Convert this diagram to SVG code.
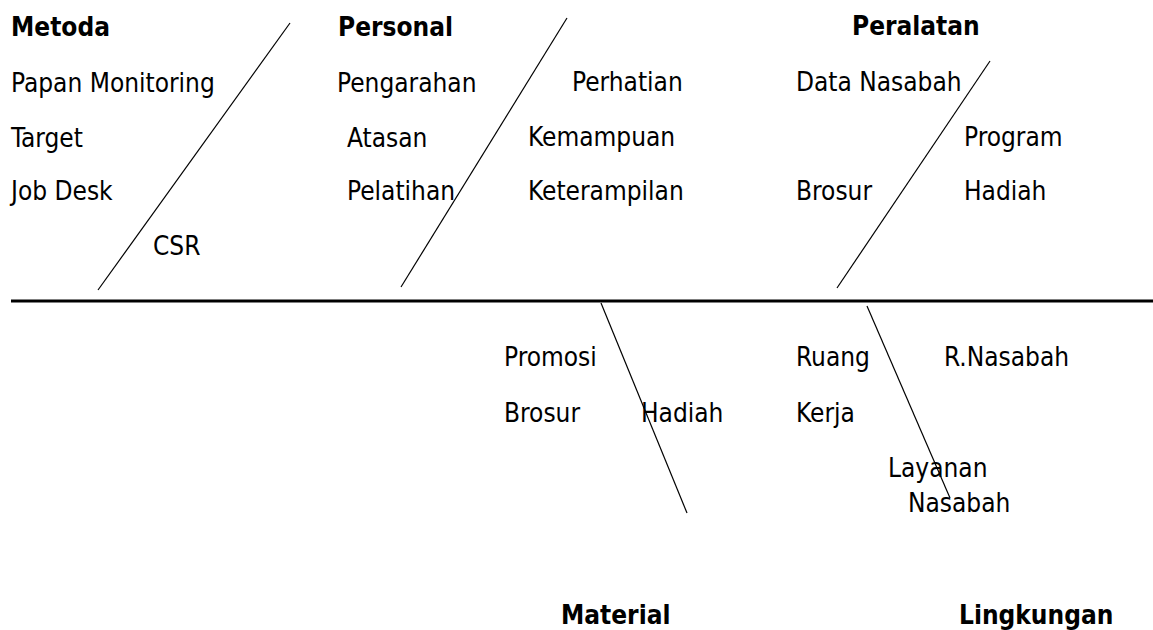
<svg xmlns="http://www.w3.org/2000/svg" width="1153" height="630" viewBox="0 0 1153 630">
<style>
text{font-family:"DejaVu Sans Condensed","DejaVu Sans",sans-serif;font-stretch:condensed;font-size:26px;fill:#000}
.h{font-weight:bold}
.bone{stroke:#000;stroke-width:1.2;fill:none}
.spine{stroke:#000;stroke-width:3;fill:none}
</style>
<rect width="1153" height="630" fill="#fff"/>
<g id="connectors">
<line class="spine" x1="11" y1="301" x2="1153" y2="301"/>
<line class="bone" x1="98" y1="290" x2="290" y2="23"/>
<line class="bone" x1="401" y1="287" x2="567" y2="18"/>
<line class="bone" x1="837" y1="288" x2="990" y2="61"/>
<line class="bone" x1="601" y1="303" x2="687" y2="513"/>
<line class="bone" x1="867" y1="306" x2="950" y2="498"/>
</g>
<g id="metoda">
<text class="h" x="11" y="36">Metoda</text>
<text x="11" y="92">Papan Monitoring</text>
<text x="11" y="147">Target</text>
<text x="11" y="200">Job Desk</text>
<text x="153" y="255">CSR</text>
</g>
<g id="personal">
<text class="h" x="338" y="36">Personal</text>
<text x="337" y="92">Pengarahan</text>
<text x="347" y="147">Atasan</text>
<text x="347" y="200">Pelatihan</text>
<text x="572" y="91">Perhatian</text>
<text x="528" y="146">Kemampuan</text>
<text x="528" y="200">Keterampilan</text>
</g>
<g id="peralatan">
<text class="h" x="852" y="35">Peralatan</text>
<text x="796" y="91">Data Nasabah</text>
<text x="964" y="146">Program</text>
<text x="796" y="200">Brosur</text>
<text x="964" y="200">Hadiah</text>
</g>
<g id="material">
<text x="504" y="366">Promosi</text>
<text x="504" y="422">Brosur</text>
<text x="641" y="422">Hadiah</text>
<text class="h" x="561" y="624">Material</text>
</g>
<g id="lingkungan">
<text x="796" y="366">Ruang</text>
<text x="796" y="422">Kerja</text>
<text x="944" y="366">R.Nasabah</text>
<text x="888" y="477">Layanan</text>
<text x="908" y="512">Nasabah</text>
<text class="h" x="959" y="624">Lingkungan</text>
</g>
</svg>
